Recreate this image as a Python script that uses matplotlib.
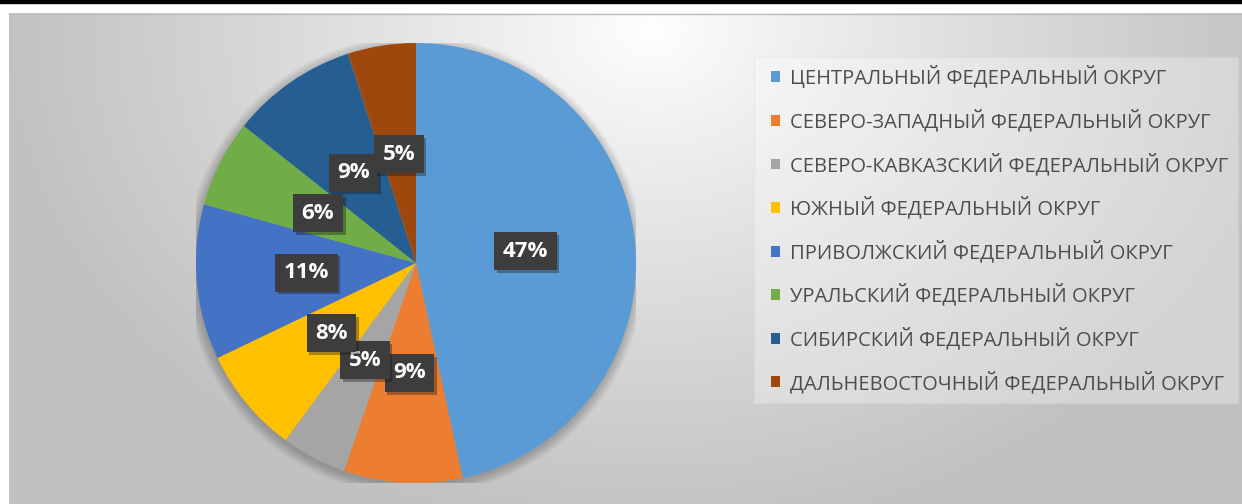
import numpy as np
import matplotlib
matplotlib.use("Agg")
import matplotlib.pyplot as plt
import matplotlib.patheffects as pe
from matplotlib.patches import Rectangle, Circle

plt.rcParams['font.family'] = ['Open Sans', 'DejaVu Sans']

# data (shares; labels round them)
districts = [
    "ЦЕНТРАЛЬНЫЙ ФЕДЕРАЛЬНЫЙ ОКРУГ",
    "СЕВЕРО-ЗАПАДНЫЙ ФЕДЕРАЛЬНЫЙ ОКРУГ",
    "СЕВЕРО-КАВКАЗСКИЙ ФЕДЕРАЛЬНЫЙ ОКРУГ",
    "ЮЖНЫЙ ФЕДЕРАЛЬНЫЙ ОКРУГ",
    "ПРИВОЛЖСКИЙ ФЕДЕРАЛЬНЫЙ ОКРУГ",
    "УРАЛЬСКИЙ ФЕДЕРАЛЬНЫЙ ОКРУГ",
    "СИБИРСКИЙ ФЕДЕРАЛЬНЫЙ ОКРУГ",
    "ДАЛЬНЕВОСТОЧНЫЙ ФЕДЕРАЛЬНЫЙ ОКРУГ",
]
shares = [46.6, 8.7, 4.8, 7.8, 11.4, 6.4, 9.3, 5.0]
colors = ['#5B9BD5', '#ED7D31', '#A5A5A5', '#FFC000',
          '#4472C4', '#70AD47', '#255E91', '#9E480E']

W, H = 1242, 504
fig = plt.figure(figsize=(W / 100, H / 100), dpi=100)

# background: white page, black rule on top, grey radial gradient chart area
bg = fig.add_axes([0, 0, 1, 1])
bg.set_xlim(0, W)
bg.set_ylim(H, 0)
bg.axis('off')
bg.add_patch(Rectangle((0, 0), W, 3, color='black', zorder=1))
yy, xx = np.mgrid[13:H, 9:W]
d = np.sqrt(((xx - 650) / 640.0) ** 2 + ((yy - 30) / 500.0) ** 2)
d = np.clip(d, 0, 1)
shade = 1.0 - 0.24 * d ** 0.9
img = np.dstack([shade, shade, shade])
bg.imshow(img, extent=[9, W, H, 13], aspect='auto', zorder=0, interpolation='bilinear')
bg.plot([9, W], [13.5, 13.5], color='#bdbdbd', lw=1, zorder=2)
# legend panel
bg.add_patch(Rectangle((754, 57), 484, 346, facecolor='white', alpha=0.3,
                       edgecolor='#d8d8d8', lw=0.8, zorder=2))

# pie
cx, cy, r = 416, 263, 220
ax = fig.add_axes([(cx - r) / W, (H - cy - r) / H, 2 * r / W, 2 * r / H])
for k in range(10):
    ax.add_patch(Circle((-0.005, -0.012), 1.0 + 0.005 * k, color='black',
                        alpha=0.022, lw=0, zorder=0))

wedges, texts, autotexts = ax.pie(
    shares, colors=colors, startangle=90, counterclock=False, radius=1,
    autopct='%1.0f%%', pctdistance=0.5,
    wedgeprops=dict(linewidth=0),
    textprops=dict(color='white', fontsize=16, fontweight='bold'))
ax.set_xlim(-1, 1)
ax.set_ylim(-1, 1)
ax.set_aspect('equal')
ax.axis('off')
for t in autotexts:
    t.set_bbox(dict(boxstyle='square,pad=0.38', facecolor='#3d3d3d', edgecolor='none'))
    t.get_bbox_patch().set_path_effects([pe.withSimplePatchShadow(offset=(2, -2), alpha=0.35)])
    t.set_zorder(5)

leg = fig.legend(wedges, districts, loc='upper left',
                 bbox_to_anchor=(771 / W, 1 - 66 / H), frameon=False,
                 fontsize=14.5, labelcolor='#4d4d4d',
                 handlelength=0.45, handleheight=0.45, handletextpad=0.5,
                 labelspacing=1.04, borderaxespad=0, borderpad=0)

fig.savefig('out.png', dpi=100)
